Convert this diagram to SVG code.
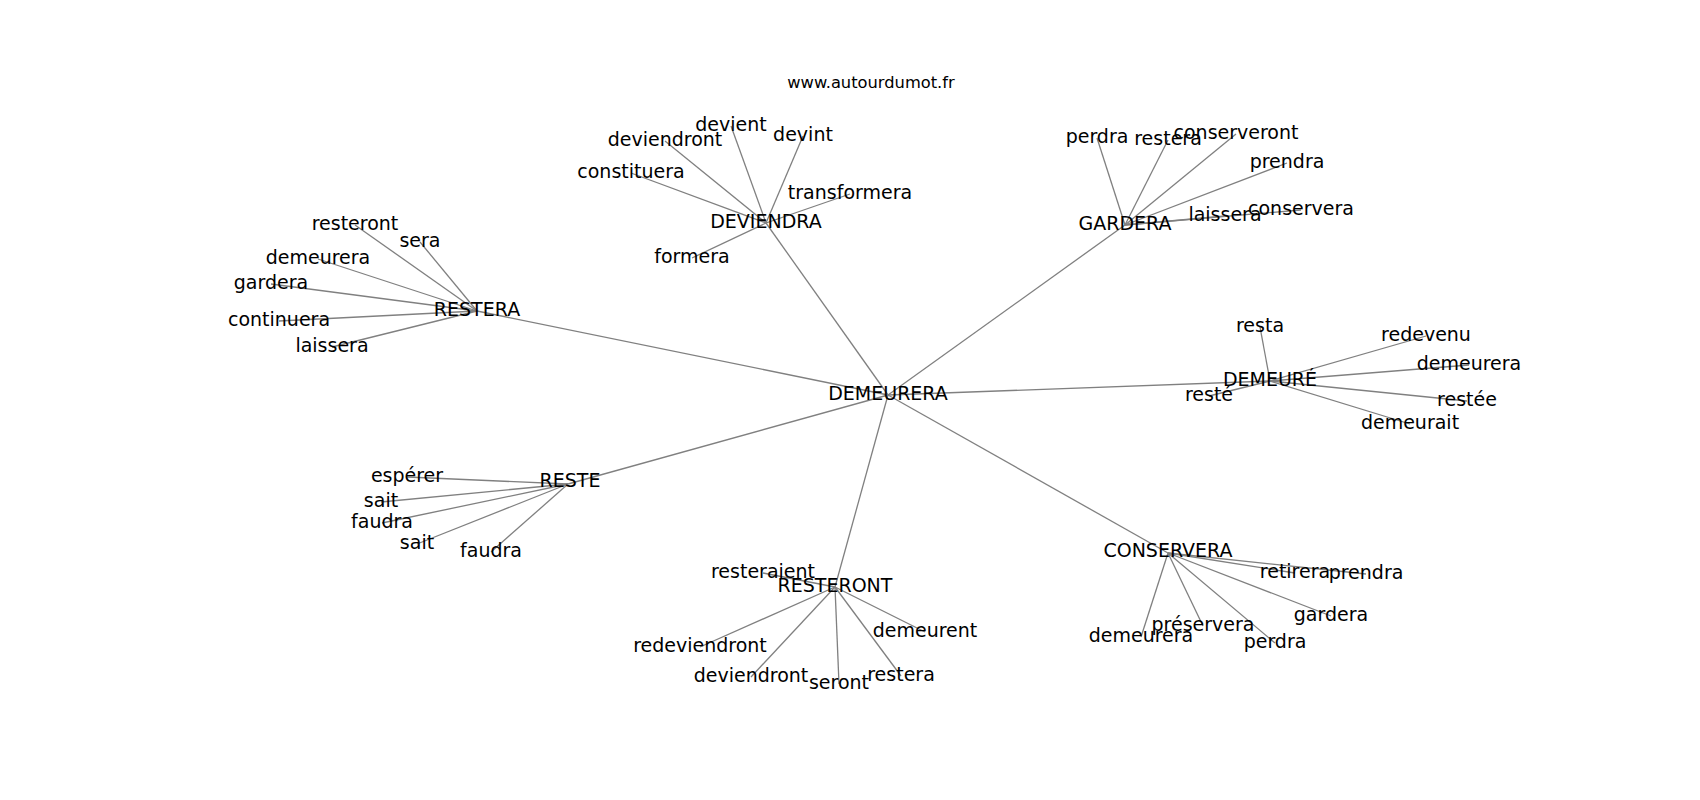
<svg xmlns="http://www.w3.org/2000/svg" width="1700" height="800" viewBox="0 0 1700 800">
<style>
.e{stroke:#808080;stroke-width:1.3;fill:none}
.n text{font-family:"DejaVu Sans",sans-serif;font-size:19px;fill:#000;text-anchor:middle}
.t{font-family:"DejaVu Sans",sans-serif;font-size:16.3px;fill:#000;text-anchor:middle}
</style>
<rect width="1700" height="800" fill="#fff"/>
<text class="t" x="871" y="88">www.autourdumot.fr</text>
<g id="edges" class="e">
<line x1="888" y1="395" x2="766" y2="223"/>
<line x1="888" y1="395" x2="1125" y2="225"/>
<line x1="888" y1="395" x2="477" y2="311"/>
<line x1="888" y1="395" x2="1270" y2="381"/>
<line x1="888" y1="395" x2="568" y2="484"/>
<line x1="888" y1="395" x2="835" y2="587"/>
<line x1="888" y1="395" x2="1168" y2="553"/>
<line x1="766" y1="223" x2="731" y2="126"/>
<line x1="766" y1="223" x2="665" y2="141"/>
<line x1="766" y1="223" x2="803" y2="136"/>
<line x1="766" y1="223" x2="631" y2="173"/>
<line x1="766" y1="223" x2="850" y2="194"/>
<line x1="766" y1="223" x2="692" y2="258"/>
<line x1="1125" y1="225" x2="1097" y2="138"/>
<line x1="1125" y1="225" x2="1168" y2="140"/>
<line x1="1125" y1="225" x2="1236" y2="134"/>
<line x1="1125" y1="225" x2="1287" y2="163"/>
<line x1="1125" y1="225" x2="1225" y2="216"/>
<line x1="1125" y1="225" x2="1301" y2="210"/>
<line x1="477" y1="311" x2="355" y2="225"/>
<line x1="477" y1="311" x2="420" y2="242"/>
<line x1="477" y1="311" x2="318" y2="259"/>
<line x1="477" y1="311" x2="271" y2="284"/>
<line x1="477" y1="311" x2="279" y2="321"/>
<line x1="477" y1="311" x2="332" y2="347"/>
<line x1="1270" y1="381" x2="1260" y2="327"/>
<line x1="1270" y1="381" x2="1426" y2="336"/>
<line x1="1270" y1="381" x2="1469" y2="365"/>
<line x1="1270" y1="381" x2="1467" y2="401"/>
<line x1="1270" y1="381" x2="1410" y2="424"/>
<line x1="1270" y1="381" x2="1209" y2="396"/>
<line x1="568" y1="484" x2="407" y2="477"/>
<line x1="568" y1="484" x2="381" y2="502"/>
<line x1="568" y1="484" x2="382" y2="523"/>
<line x1="568" y1="484" x2="417" y2="544"/>
<line x1="568" y1="484" x2="491" y2="552"/>
<line x1="835" y1="587" x2="763" y2="573"/>
<line x1="835" y1="587" x2="700" y2="647"/>
<line x1="835" y1="587" x2="751" y2="677"/>
<line x1="835" y1="587" x2="839" y2="684"/>
<line x1="835" y1="587" x2="901" y2="676"/>
<line x1="835" y1="587" x2="925" y2="632"/>
<line x1="1168" y1="553" x2="1295" y2="573"/>
<line x1="1168" y1="553" x2="1366" y2="574"/>
<line x1="1168" y1="553" x2="1331" y2="616"/>
<line x1="1168" y1="553" x2="1203" y2="626"/>
<line x1="1168" y1="553" x2="1141" y2="637"/>
<line x1="1168" y1="553" x2="1275" y2="643"/>
</g>
<g class="n">
<g id="n-demeurera"><text x="888" y="400">DEMEURERA</text></g>
<g id="n-deviendra"><text x="766" y="228">DEVIENDRA</text></g>
<g id="n-deviendra-devient"><text x="731" y="131">devient</text></g>
<g id="n-deviendra-deviendront"><text x="665" y="146">deviendront</text></g>
<g id="n-deviendra-devint"><text x="803" y="141">devint</text></g>
<g id="n-deviendra-constituera"><text x="631" y="178">constituera</text></g>
<g id="n-deviendra-transformera"><text x="850" y="199">transformera</text></g>
<g id="n-deviendra-formera"><text x="692" y="263">formera</text></g>
<g id="n-gardera"><text x="1125" y="230">GARDERA</text></g>
<g id="n-gardera-perdra"><text x="1097" y="143">perdra</text></g>
<g id="n-gardera-restera"><text x="1168" y="145">restera</text></g>
<g id="n-gardera-conserveront"><text x="1236" y="139">conserveront</text></g>
<g id="n-gardera-prendra"><text x="1287" y="168">prendra</text></g>
<g id="n-gardera-laissera"><text x="1225" y="221">laissera</text></g>
<g id="n-gardera-conservera"><text x="1301" y="215">conservera</text></g>
<g id="n-restera"><text x="477" y="316">RESTERA</text></g>
<g id="n-restera-resteront"><text x="355" y="230">resteront</text></g>
<g id="n-restera-sera"><text x="420" y="247">sera</text></g>
<g id="n-restera-demeurera"><text x="318" y="264">demeurera</text></g>
<g id="n-restera-gardera"><text x="271" y="289">gardera</text></g>
<g id="n-restera-continuera"><text x="279" y="326">continuera</text></g>
<g id="n-restera-laissera"><text x="332" y="352">laissera</text></g>
<g id="n-demeure"><text x="1270" y="386">DEMEURÉ</text></g>
<g id="n-demeure-resta"><text x="1260" y="332">resta</text></g>
<g id="n-demeure-redevenu"><text x="1426" y="341">redevenu</text></g>
<g id="n-demeure-demeurera"><text x="1469" y="370">demeurera</text></g>
<g id="n-demeure-restee"><text x="1467" y="406">restée</text></g>
<g id="n-demeure-demeurait"><text x="1410" y="429">demeurait</text></g>
<g id="n-demeure-reste"><text x="1209" y="401">resté</text></g>
<g id="n-reste"><text x="570" y="487">RESTE</text></g>
<g id="n-reste-esperer"><text x="407" y="482">espérer</text></g>
<g id="n-reste-sait1"><text x="381" y="507">sait</text></g>
<g id="n-reste-faudra1"><text x="382" y="528">faudra</text></g>
<g id="n-reste-sait2"><text x="417" y="549">sait</text></g>
<g id="n-reste-faudra2"><text x="491" y="557">faudra</text></g>
<g id="n-resteront"><text x="835" y="592">RESTERONT</text></g>
<g id="n-resteront-resteraient"><text x="763" y="578">resteraient</text></g>
<g id="n-resteront-redeviendront"><text x="700" y="652">redeviendront</text></g>
<g id="n-resteront-deviendront"><text x="751" y="682">deviendront</text></g>
<g id="n-resteront-seront"><text x="839" y="689">seront</text></g>
<g id="n-resteront-restera"><text x="901" y="681">restera</text></g>
<g id="n-resteront-demeurent"><text x="925" y="637">demeurent</text></g>
<g id="n-conservera"><text x="1168" y="557">CONSERVERA</text></g>
<g id="n-conservera-retirera"><text x="1295" y="578">retirera</text></g>
<g id="n-conservera-prendra"><text x="1366" y="579">prendra</text></g>
<g id="n-conservera-gardera"><text x="1331" y="621">gardera</text></g>
<g id="n-conservera-preservera"><text x="1203" y="631">préservera</text></g>
<g id="n-conservera-demeurera"><text x="1141" y="642">demeurera</text></g>
<g id="n-conservera-perdra"><text x="1275" y="648">perdra</text></g>
</g>
</svg>
